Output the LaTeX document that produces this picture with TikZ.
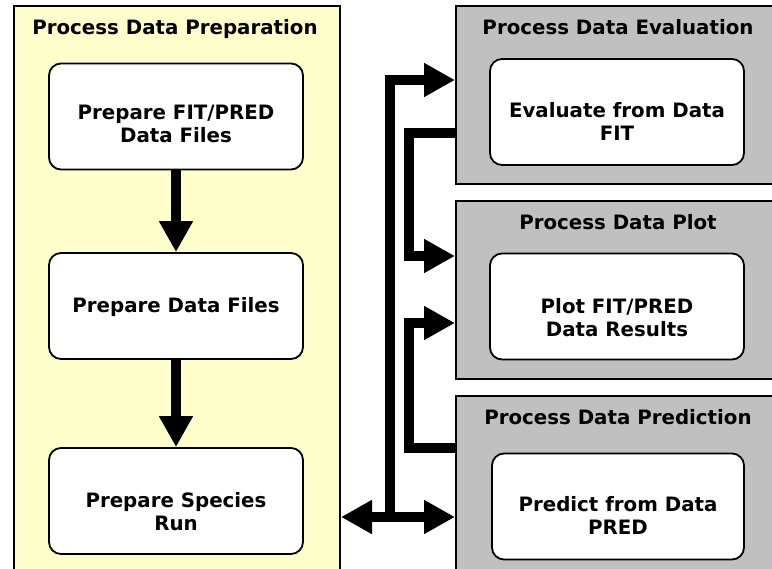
\documentclass[tikz,border=0pt]{standalone}
\usepackage{fontspec}
\setmainfont{DejaVu Sans}
\usetikzlibrary{arrows.meta}
\definecolor{prepyellow}{HTML}{FFFFCC}
\definecolor{panelgray}{HTML}{C0C0C0}
\begin{document}
\begin{tikzpicture}[x=1pt,y=-1pt,
  panel/.style={draw=black, line width=2pt, anchor=north west, inner sep=0pt},
  stepbox/.style={draw=black, line width=1.8pt, fill=white, rounded corners=12pt,
    minimum width=254pt, minimum height=106pt, inner sep=0pt},
  boxtext/.style={align=center, inner sep=0pt,
    font=\bfseries\fontsize{19.8}{23}\selectfont},
  ptitle/.style={font=\bfseries\fontsize{19.8}{23}\selectfont, inner sep=0pt, anchor=base},
  flow/.style={line width=10pt, -{Triangle[length=31pt,width=32pt]}},
  both/.style={line width=10pt, {Triangle[length=31pt,width=32pt]}-{Triangle[length=31pt,width=32pt]}}]
\useasboundingbox (0,0) rectangle (772,569);
\clip (0,0) rectangle (772,569);
\fill[white] (0,0) rectangle (772,569);
% panels
\node[panel, fill=prepyellow, minimum width=326pt, minimum height=620pt] (prep) at (13,5) {};
\node[panel, fill=panelgray, minimum width=340pt, minimum height=178pt] (eval) at (455,5) {};
\node[panel, fill=panelgray, minimum width=340pt, minimum height=178pt] (plot) at (455,200) {};
\node[panel, fill=panelgray, minimum width=340pt, minimum height=220pt] (pred) at (455,395) {};
% titles
\node[ptitle] (preptitle) at (175,34.5) {Process Data Preparation};
\node[ptitle] (evaltitle) at (618,34.5) {Process Data Evaluation};
\node[ptitle] (plottitle) at (618,229.5) {Process Data Plot};
\node[ptitle] (predtitle) at (618,424.5) {Process Data Prediction};
% boxes
\node[stepbox] (box1) at (176,116.5) {};
\node[stepbox] (box2) at (176,306) {};
\node[stepbox] (box3) at (176,501) {};
\node[stepbox] (evalbox) at (617,112) {};
\node[stepbox] (plotbox) at (617,306.5) {};
\node[stepbox, minimum width=252pt] (predbox) at (618,506.5) {};
\node[boxtext] (box1t) at (176,124) {Prepare FIT/PRED\\Data Files};
\node[boxtext, anchor=base] (box2t) at (176,312.5) {Prepare Data Files};
\node[boxtext] (box3t) at (176,512) {Prepare Species\\Run};
\node[boxtext] (evalt) at (617,121) {Evaluate from Data\\FIT};
\node[boxtext] (plott) at (617,318) {Plot FIT/PRED\\Data Results};
\node[boxtext] (predt) at (618,515.5) {Predict from Data\\PRED};
% connectors
\draw[flow] (box1.south) -- (box2.north);
\draw[flow] (box2.south) -- (box3.north);
\coordinate (jn) at (390,517);
\draw[both] (prep.east |- jn) -- (pred.west |- jn);
\draw[flow] (jn) |- ([yshift=-75pt]eval.north west);
\draw[flow] ([yshift=-128pt]eval.north west) -- ++(-46,0) |- ([yshift=-56pt]plot.north west);
\draw[flow] ([yshift=-53pt]pred.north west) -- ++(-46,0) |- ([yshift=-123pt]plot.north west);
\end{tikzpicture}
\end{document}
